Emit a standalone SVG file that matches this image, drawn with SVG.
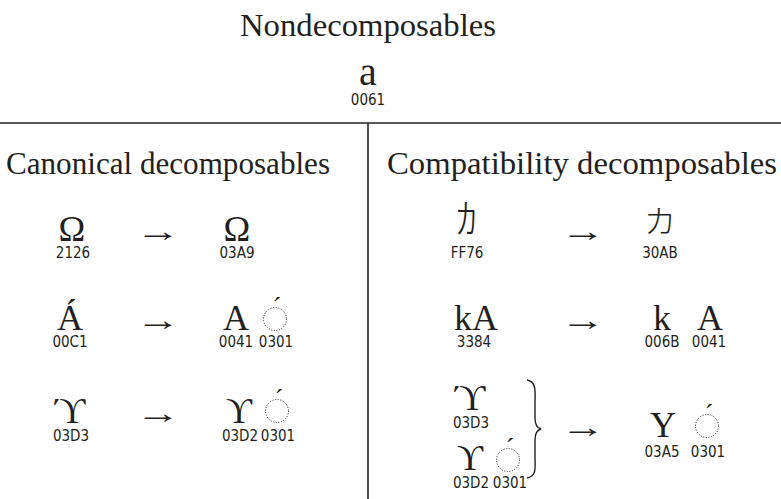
<svg xmlns="http://www.w3.org/2000/svg" width="781" height="499" viewBox="0 0 781 499">
<style>
.t{font-family:"Liberation Serif","DejaVu Serif",serif;fill:#231f20}
.h{font-size:32px}
.g{font-size:36px;text-anchor:middle}
.ar{font-size:30px;text-anchor:middle}
.ac{font-size:26px;text-anchor:middle}
.c{font-family:"Liberation Sans Narrow","DejaVu Sans Condensed","Liberation Sans",sans-serif;font-size:15px;text-anchor:middle;fill:#231f20}
.j{font-family:"Noto Sans CJK JP",sans-serif;font-size:32px;font-weight:300;text-anchor:middle;fill:#231f20}
.dc{fill:none;stroke:#231f20;stroke-width:1;stroke-dasharray:1 1.6}
.ln{stroke:#231f20;stroke-width:1.6;fill:none}
</style>
<rect width="781" height="499" fill="#ffffff"/>
<g id="dividers">
<line class="ln" x1="0" y1="123" x2="781" y2="123"/>
<line class="ln" x1="368" y1="123" x2="368" y2="499"/>
</g>
<g id="titles">
<text class="t h" x="368" y="36" text-anchor="middle" textLength="256" lengthAdjust="spacingAndGlyphs">Nondecomposables</text>
<text class="t h" x="6" y="174" textLength="324" lengthAdjust="spacingAndGlyphs">Canonical decomposables</text>
<text class="t h" x="387" y="174" textLength="390" lengthAdjust="spacingAndGlyphs">Compatibility decomposables</text>
</g>
<g id="node-0061">
<text class="t g" x="368" y="85" style="font-size:40px">a</text>
<text class="c" x="368" y="105">0061</text>
</g>
<g id="node-2126">
<text class="t g" x="72" y="241">Ω</text>
<text class="c" x="73" y="258">2126</text>
</g>
<g id="node-03A9">
<text class="t g" x="237" y="241">Ω</text>
<text class="c" x="237" y="258">03A9</text>
</g>
<g id="node-00C1">
<text class="t g" x="70" y="330">Á</text>
<text class="c" x="70" y="347">00C1</text>
</g>
<g id="node-0041-0301">
<text class="t g" x="236" y="330">A</text>
<text class="c" x="236" y="347">0041</text>
<circle class="dc" cx="275" cy="319" r="11.5"/>
<text class="t ac" x="277" y="315">´</text>
<text class="c" x="276" y="347">0301</text>
</g>
<g id="node-03D3-left">
<text class="t g" x="70" y="423">ϓ</text>
<text class="c" x="71" y="441">03D3</text>
</g>
<g id="node-03D2-0301-left">
<text class="t g" x="239" y="423">ϒ</text>
<text class="c" x="240" y="441">03D2</text>
<circle class="dc" cx="277" cy="411" r="11.5"/>
<text class="t ac" x="279" y="407">´</text>
<text class="c" x="278" y="441">0301</text>
</g>
<g id="node-FF76">
<text class="j" x="467" y="234" style="font-size:42px">ｶ</text>
<text class="c" x="467" y="258">FF76</text>
</g>
<g id="node-30AB">
<text class="j" x="660" y="233">カ</text>
<text class="c" x="660" y="258">30AB</text>
</g>
<g id="node-3384">
<text class="t g" x="476" y="330">kA</text>
<text class="c" x="474" y="347">3384</text>
</g>
<g id="node-006B-0041">
<text class="t g" x="662" y="330">k</text>
<text class="c" x="662" y="347">006B</text>
<text class="t g" x="710" y="330">A</text>
<text class="c" x="709" y="347">0041</text>
</g>
<g id="node-03D3-right">
<text class="t g" x="470" y="410">ϓ</text>
<text class="c" x="471" y="428">03D3</text>
</g>
<g id="node-03D2-0301-right">
<text class="t g" x="470" y="470">ϒ</text>
<text class="c" x="471" y="488">03D2</text>
<circle class="dc" cx="508" cy="460" r="11.5"/>
<text class="t ac" x="510" y="456">´</text>
<text class="c" x="510" y="488">0301</text>
</g>
<g id="node-03A5-0301">
<text class="t g" x="663" y="437">Υ</text>
<text class="c" x="662" y="457">03A5</text>
<circle class="dc" cx="707" cy="426" r="11.5"/>
<text class="t ac" x="709" y="422">´</text>
<text class="c" x="708" y="457">0301</text>
</g>
<g id="connectors">
<text class="t ar" transform="translate(158,241) scale(1.5,1)">→</text>
<text class="t ar" transform="translate(158,330) scale(1.5,1)">→</text>
<text class="t ar" transform="translate(158,423) scale(1.5,1)">→</text>
<text class="t ar" transform="translate(583,241) scale(1.5,1)">→</text>
<text class="t ar" transform="translate(583,330) scale(1.5,1)">→</text>
<text class="t ar" transform="translate(583,437) scale(1.5,1)">→</text>
<path d="M527,380 C537,382 535,392 535,404 L535,418 C535,425 537,428 541,429 C537,430 535,433 535,440 L535,456 C535,468 537,476 527,478" fill="none" stroke="#231f20" stroke-width="1.4"/>
</g>
</svg>
